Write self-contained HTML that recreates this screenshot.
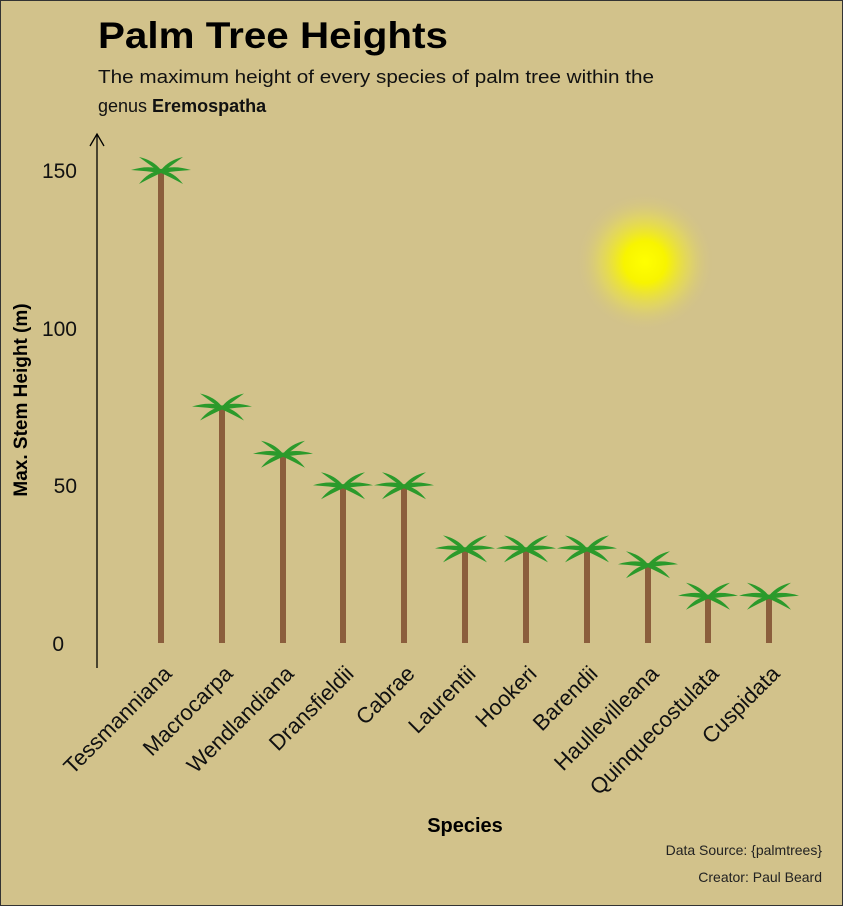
<!DOCTYPE html>
<html><head><meta charset="utf-8"><style>
html,body{margin:0;padding:0;background:#d2c28b;}
svg{display:block;font-family:"Liberation Sans","DejaVu Sans",sans-serif;}
</style></head><body>
<svg width="843" height="906" viewBox="0 0 843 906" xmlns="http://www.w3.org/2000/svg">
<defs>
<radialGradient id="sun" cx="50%" cy="50%" r="50%">
<stop offset="0" stop-color="#ffff00"/>
<stop offset="0.3" stop-color="#f8f400"/>
<stop offset="0.65" stop-color="#e8de50" stop-opacity="0.6"/>
<stop offset="1" stop-color="#d2c28b" stop-opacity="0"/>
</radialGradient>
<g id="crown" fill="#2b9a2b">
<path d="M0,-1 Q14,-5 30,0 Q14,1 0,3 Z"/>
<path d="M0,-1 Q-14,-5 -30,0 Q-14,1 0,3 Z"/>
<path d="M0,0 Q8,-10 22,-13 Q11,-5 0,3 Z"/>
<path d="M0,0 Q-8,-10 -22,-13 Q-11,-5 0,3 Z"/>
<path d="M0,0 Q13,2 22,14 Q9,7 0,3 Z"/>
<path d="M0,0 Q-13,2 -22,14 Q-9,7 0,3 Z"/>
</g>
</defs>
<rect x="0.5" y="0.5" width="842" height="905" fill="#d2c28b" stroke="#333" stroke-width="1"/>
<circle cx="645" cy="262" r="70" fill="url(#sun)"/>
<text x="98" y="48" font-size="37" font-weight="bold" fill="#000" textLength="350" lengthAdjust="spacingAndGlyphs">Palm Tree Heights</text>
<text x="98" y="83" font-size="18" fill="#111" textLength="556" lengthAdjust="spacingAndGlyphs">The maximum height of every species of palm tree within the</text>
<text x="98" y="112" font-size="18" fill="#111">genus <tspan font-weight="bold">Eremospatha</tspan></text>
<line x1="97" y1="134" x2="97" y2="668" stroke="#000" stroke-width="1.3"/>
<polyline points="90,146 97,134 104,146" fill="none" stroke="#000" stroke-width="1.3"/>
<g font-size="21" fill="#111" text-anchor="end">
<text x="77" y="178">150</text>
<text x="77" y="336">100</text>
<text x="77" y="493">50</text>
<text x="64" y="651">0</text>
</g>
<text transform="translate(27,400) rotate(-90)" font-size="19" font-weight="bold" text-anchor="middle">Max. Stem Height (m)</text>
<g stroke="#8b5e3c" stroke-width="6">
<line x1="161" y1="170" x2="161" y2="643"/>
<line x1="222" y1="406.5" x2="222" y2="643"/>
<line x1="283" y1="453.8" x2="283" y2="643"/>
<line x1="343" y1="485.3" x2="343" y2="643"/>
<line x1="404" y1="485.3" x2="404" y2="643"/>
<line x1="465" y1="548.4" x2="465" y2="643"/>
<line x1="526" y1="548.4" x2="526" y2="643"/>
<line x1="587" y1="548.4" x2="587" y2="643"/>
<line x1="648" y1="564.2" x2="648" y2="643"/>
<line x1="708" y1="595.7" x2="708" y2="643"/>
<line x1="769" y1="595.7" x2="769" y2="643"/>
</g>
<use href="#crown" x="161" y="170"/>
<use href="#crown" x="222" y="406.5"/>
<use href="#crown" x="283" y="453.8"/>
<use href="#crown" x="343" y="485.3"/>
<use href="#crown" x="404" y="485.3"/>
<use href="#crown" x="465" y="548.4"/>
<use href="#crown" x="526" y="548.4"/>
<use href="#crown" x="587" y="548.4"/>
<use href="#crown" x="648" y="564.2"/>
<use href="#crown" x="708" y="595.7"/>
<use href="#crown" x="769" y="595.7"/>
<g font-size="22" fill="#111" text-anchor="end">
<text transform="translate(173,675) rotate(-45)">Tessmanniana</text>
<text transform="translate(234,675) rotate(-45)">Macrocarpa</text>
<text transform="translate(295,675) rotate(-45)">Wendlandiana</text>
<text transform="translate(355,675) rotate(-45)">Dransfieldii</text>
<text transform="translate(416,675) rotate(-45)">Cabrae</text>
<text transform="translate(477,675) rotate(-45)">Laurentii</text>
<text transform="translate(538,675) rotate(-45)">Hookeri</text>
<text transform="translate(599,675) rotate(-45)">Barendii</text>
<text transform="translate(660,675) rotate(-45)">Haullevilleana</text>
<text transform="translate(720,675) rotate(-45)">Quinquecostulata</text>
<text transform="translate(781,675) rotate(-45)">Cuspidata</text>
</g>
<text x="465" y="832" font-size="20" font-weight="bold" text-anchor="middle">Species</text>
<text x="822" y="855" font-size="14" fill="#222" text-anchor="end">Data Source: {palmtrees}</text>
<text x="822" y="882" font-size="14" fill="#222" text-anchor="end">Creator: Paul Beard</text>
</svg>
</body></html>
